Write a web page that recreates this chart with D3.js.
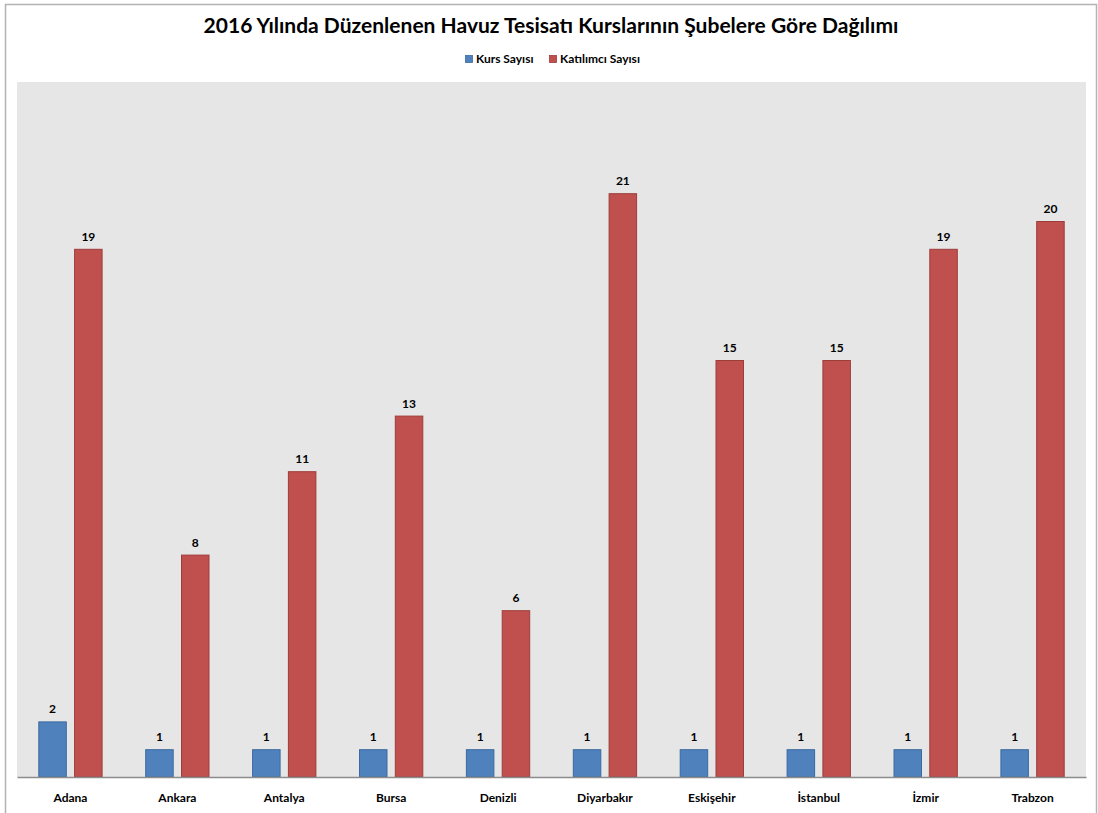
<!DOCTYPE html>
<html><head><meta charset="utf-8">
<script src="https://cdn.jsdelivr.net/npm/d3@7"></script>
<style>body{margin:0;background:#fff}svg{display:block}text{font-family:Lato,"Open Sans",sans-serif;font-weight:bold}</style>
</head><body>
<svg id="c" width="1098" height="813"></svg>
<script>
const title = "2016 Yılında Düzenlenen Havuz Tesisatı Kurslarının Şubelere Göre Dağılımı";
const categories = ["Adana","Ankara","Antalya","Bursa","Denizli","Diyarbakır","Eskişehir","İstanbul","İzmir","Trabzon"];
const seriesNames = ["Kurs Sayısı","Katılımcı Sayısı"];
const kursSayisi = [2,1,1,1,1,1,1,1,1,1];
const katilimciSayisi = [19,8,11,13,6,21,15,15,19,20];
const yDomain = [0,25];

const colors = ["#4F81BD","#C0504D"];
const strokes = ["#3B6A9E","#9E3C3A"];
const svg = d3.select("#c");
const L = 17, R = 1086, T = 82, B = 777;

// frame
svg.append("rect").attr("x",5.5).attr("y",4.5).attr("width",1091).attr("height",830)
  .attr("fill","#fff").attr("stroke","#b3b3b3").attr("stroke-width",1.5);
// plot area
svg.append("rect").attr("x",L).attr("y",T).attr("width",R-L).attr("height",B-T).attr("fill","#e6e6e6");

const x = d3.scaleBand().domain(categories).range([L,R]).paddingInner(0).paddingOuter(0);
const x1 = d3.scaleBand().domain(seriesNames).range([0,x.bandwidth()]).paddingInner(0.204).paddingOuter(0.595);
const y = d3.scaleLinear().domain(yDomain).range([B,T]);

const data = [kursSayisi, katilimciSayisi];
data.forEach((vals,si)=>{
  const g = svg.append("g");
  g.selectAll("rect").data(vals).join("rect")
    .attr("x",(d,i)=>x(categories[i])+x1(seriesNames[si])+0.5)
    .attr("y",d=>y(d)+0.5)
    .attr("width",x1.bandwidth()-1)
    .attr("height",d=>B-y(d)-0.5)
    .attr("fill",colors[si]).attr("stroke",strokes[si]).attr("stroke-width",1);
  g.selectAll("text").data(vals).join("text")
    .attr("x",(d,i)=>x(categories[i])+x1(seriesNames[si])+x1.bandwidth()/2)
    .attr("y",d=>y(d)-8)
    .attr("text-anchor","middle").attr("font-size",12).attr("fill","#000")
    .text(d=>d);
});

// x axis
const xAxis = d3.axisBottom(x).tickSize(0).tickPadding(0);
const ax = svg.append("g").attr("transform",`translate(0,${B})`).call(xAxis);
ax.select(".domain").attr("stroke","#8c8c8c").attr("stroke-width",1.5);
ax.selectAll("text").attr("font-size",12).attr("fill","#000").attr("dy",0).attr("y",25)
  .style("font-family","Lato,'Open Sans',sans-serif").style("font-weight","bold");

// title
const t = svg.append("text").attr("x",551).attr("y",33).attr("text-anchor","middle")
  .attr("font-size",20).attr("fill","#000").text(title);
const w = t.node().getComputedTextLength();
t.attr("font-size",20*695/w);

// legend
const lg = svg.append("g");
const lx = [465,549];
seriesNames.forEach((n,i)=>{
  lg.append("rect").attr("x",lx[i]+0.5).attr("y",55.5).attr("width",7).attr("height",7)
    .attr("fill",colors[i]).attr("stroke",strokes[i]).attr("stroke-width",0.8);
  lg.append("text").attr("x",lx[i]+11).attr("y",63).attr("font-size",12).attr("fill","#000").text(n);
});
</script>
</body></html>
